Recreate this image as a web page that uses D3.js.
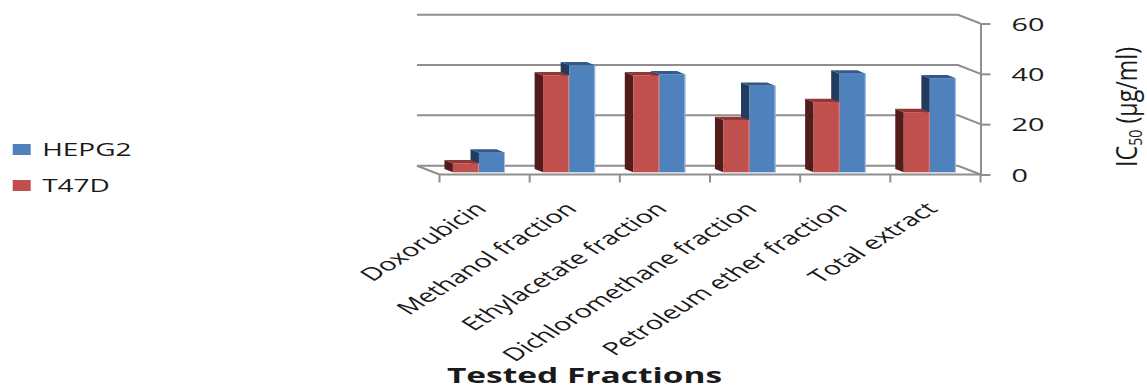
<!DOCTYPE html>
<html>
<head>
<meta charset="utf-8">
<script src="https://cdn.jsdelivr.net/npm/d3@7"></script>
<style>
  html, body { margin: 0; padding: 0; background: #fff; }
  svg { display: block; }
  text { font-family: "Open Sans", sans-serif; fill: #1a1a1a; }
</style>
</head>
<body>
<svg id="chart" width="1147" height="388"></svg>
<script>
// IC50 values (µg/ml) per tested fraction
const categories = ["Doxorubicin", "Methanol fraction", "Ethylacetate fraction",
  "Dichloromethane fraction", "Petroleum ether fraction", "Total extract"];
const seriesNames = ["HEPG2", "T47D"];
const hepg2 = [7.8, 42.5, 38.9, 34.4, 39.2, 37.4];
const t47d = [3.6, 38.5, 38.5, 20.8, 27.9, 23.9];
const yTicks = [0, 20, 40, 60];

const colors = {
  HEPG2: { front: "#4f81bd", side: "#213c5e", top: "#33598a", edge: "#a9c3e6" },
  T47D:  { front: "#c0504d", side: "#521c1b", top: "#933634", edge: "#d98a88" }
};

const svg = d3.select("#chart");
const SX = 1.6;                 // horizontal stretch applied to all text
const depth = { dx: 22.5, dy: 8.8 };   // full floor depth vector (back -> front)
const zFront = 0.75, zBack = 0.375;    // bar depth slice

// back-wall scales
const x = d3.scaleBand().domain(categories).range([417, 958]);
const sub = d3.scaleBand().domain(["T47D", "HEPG2"]).range([0, x.bandwidth()])
  .paddingInner(0).paddingOuter(0.73);
const y = d3.scaleLinear().domain([0, 60]).range([165.7, 14.7]);
const yFront = y.copy().range(y.range().map(v => v + depth.dy));

const P = (xb, v, z) => [xb + z * depth.dx, y(v) + z * depth.dy];

// gridlines: back wall + right side wall
const grid = svg.append("g");
const [xL, xR] = x.range();
grid.selectAll("polyline").data(yTicks).join("polyline")
  .attr("points", t => [P(xL, t, 0), P(xR, t, 0), P(xR, t, 1)].map(p => p.join(",")).join(" "))
  .attr("fill", "none").attr("stroke", "#8e8e8e").attr("stroke-width", 2);
// floor left edge and front edge
grid.append("polyline")
  .attr("points", [P(xL, 0, 0), P(xL, 0, 1), P(xR, 0, 1)].map(p => p.join(",")).join(" "))
  .attr("fill", "none").attr("stroke", "#8e8e8e").attr("stroke-width", 2);

// category tick marks along the front edge
const bounds = categories.map(c => x(c)).concat([xR]);
grid.selectAll("line.ctick").data(bounds).join("line")
  .attr("class", "ctick")
  .attr("x1", b => P(b, 0, 1)[0]).attr("x2", b => P(b, 0, 1)[0])
  .attr("y1", yFront(0)).attr("y2", yFront(0) + 8)
  .attr("stroke", "#8e8e8e").attr("stroke-width", 2);

// value axis on the right
const axisX = xR + depth.dx;
const yAxis = svg.append("g").attr("transform", `translate(${axisX},0)`)
  .call(d3.axisRight(yFront).tickValues(yTicks).tickSize(10).tickSizeOuter(0));
yAxis.select(".domain").attr("stroke", "#8e8e8e").attr("stroke-width", 2);
yAxis.selectAll(".tick line").attr("stroke", "#8e8e8e").attr("stroke-width", 2);
yAxis.selectAll(".tick text")
  .attr("x", null).attr("dy", null)
  .attr("transform", "translate(31,6.5) scale(" + SX + ",1)")
  .style("font-family", "'Open Sans', sans-serif")
  .style("font-size", "18px").attr("fill", "#1a1a1a");

// bars
const rows = categories.map((c, i) => ({ c, HEPG2: hepg2[i], T47D: t47d[i] }));
const barsG = svg.append("g");
function drawBar(g, xb, w, v, col) {
  const fl0 = P(xb, 0, zFront), flT = P(xb, v, zFront);
  const frT = P(xb + w, v, zFront);
  const blT = P(xb, v, zBack), bl0 = P(xb, 0, zBack), brT = P(xb + w, v, zBack);
  const poly = pts => pts.map(p => p.join(",")).join(" ");
  g.append("polygon").attr("points", poly([fl0, flT, blT, bl0])).attr("fill", col.side);
  g.append("polygon").attr("points", poly([flT, frT, brT, blT])).attr("fill", col.top);
  g.append("rect").attr("x", flT[0]).attr("y", flT[1])
    .attr("width", w).attr("height", fl0[1] - flT[1]).attr("fill", col.front);
  g.append("line").attr("x1", frT[0] - 0.5).attr("x2", frT[0] - 0.5)
    .attr("y1", frT[1]).attr("y2", fl0[1]).attr("stroke", col.edge).attr("stroke-width", 1);
}
rows.forEach(r => {
  const g = barsG.append("g");
  // right-hand series first so the left bar's front covers its side face
  ["HEPG2", "T47D"].forEach(s => {
    drawBar(g, x(r.c) + sub(s), sub.bandwidth(), r[s], colors[s]);
  });
});

// category labels
svg.append("g").selectAll("text").data(categories).join("text")
  .attr("transform", c => {
    const px = x(c) + x.bandwidth() / 2 + depth.dx + 3.5;
    return `translate(${px},210) scale(${SX},1) rotate(-45)`;
  })
  .attr("text-anchor", "end")
  .style("font-size", "18px")
  .text(c => c);

// value axis title
const yt = svg.append("text")
  .attr("transform", `translate(1137,107) scale(${SX},1) rotate(-90)`)
  .attr("text-anchor", "middle")
  .attr("textLength", 120).attr("lengthAdjust", "spacingAndGlyphs")
  .style("font-size", "18px");
yt.append("tspan").text("IC");
yt.append("tspan").attr("baseline-shift", "-25%").style("font-size", "11px").text("50");
yt.append("tspan").text(" (µg/ml)");

// category axis title
svg.append("text")
  .attr("transform", `translate(584.5,383) scale(${SX},1)`)
  .attr("text-anchor", "middle")
  .attr("textLength", 172).attr("lengthAdjust", "spacingAndGlyphs")
  .style("font-size", "21px").style("font-weight", "bold")
  .attr("fill", "#111")
  .text("Tested Fractions");

// legend
const legend = svg.append("g").selectAll("g").data(seriesNames).join("g")
  .attr("transform", (d, i) => `translate(12.7,${144 + i * 36})`);
legend.append("rect").attr("width", 18).attr("height", 11)
  .attr("fill", d => colors[d].front);
legend.append("text")
  .attr("transform", `translate(29.5,12) scale(${SX},1)`)
  .style("font-size", "17.5px")
  .text(d => d);
</script>
</body>
</html>
